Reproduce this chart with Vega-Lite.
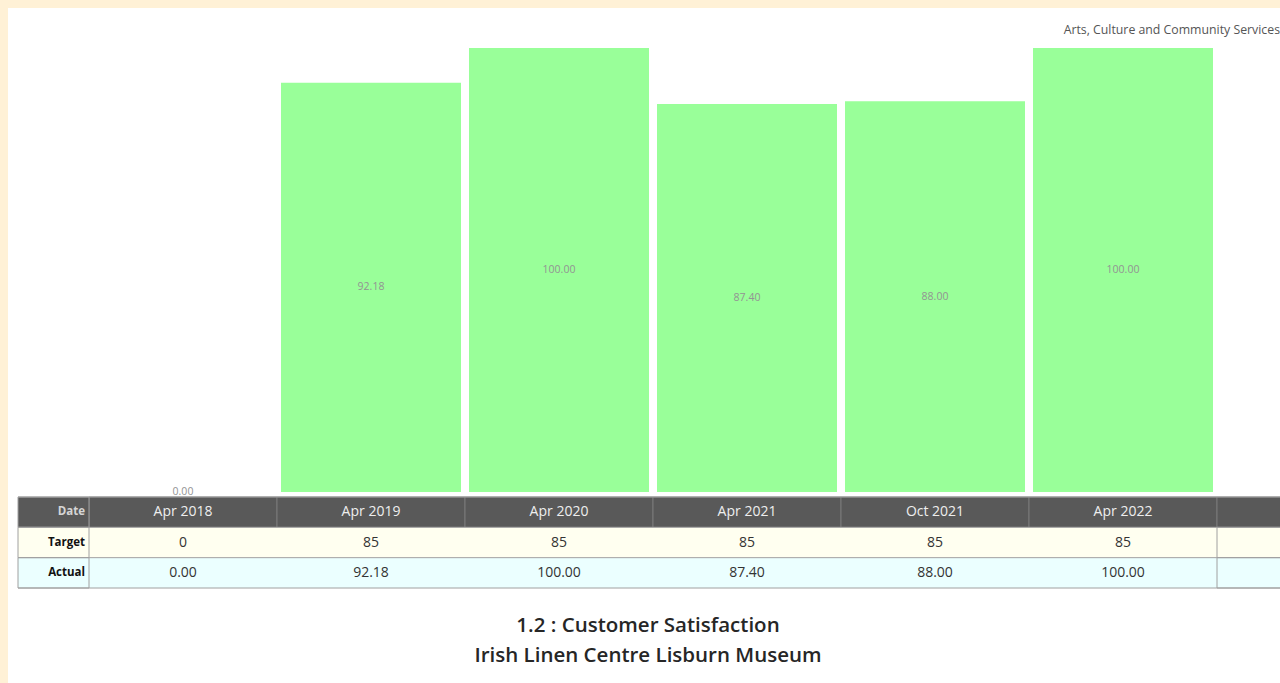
{
  "$schema": "https://vega.github.io/schema/vega-lite/v6.json",
  "width": 1280,
  "height": 683,
  "autosize": {"type": "fit", "contains": "padding"},
  "padding": {"left": 8, "top": 8, "right": 0, "bottom": 0},
  "background": "#FFF1D6",
  "config": {"view": {"fill": "#ffffff", "stroke": null}, "font": "Open Sans", "text": {"font": "Open Sans"}},
  "datasets": {
    "bars": [
      {"date": "Apr 2018", "actual": 0},
      {"date": "Apr 2019", "actual": 92.18},
      {"date": "Apr 2020", "actual": 100},
      {"date": "Apr 2021", "actual": 87.4},
      {"date": "Oct 2021", "actual": 88},
      {"date": "Apr 2022", "actual": 100}
    ],
    "cells": [
      {"col": "Apr 2018", "row": "Date", "text": "Apr 2018"},
      {"col": "Apr 2019", "row": "Date", "text": "Apr 2019"},
      {"col": "Apr 2020", "row": "Date", "text": "Apr 2020"},
      {"col": "Apr 2021", "row": "Date", "text": "Apr 2021"},
      {"col": "Oct 2021", "row": "Date", "text": "Oct 2021"},
      {"col": "Apr 2022", "row": "Date", "text": "Apr 2022"},
      {"col": "_extra", "row": "Date", "text": ""},
      {"col": "Apr 2018", "row": "Target", "text": "0"},
      {"col": "Apr 2019", "row": "Target", "text": "85"},
      {"col": "Apr 2020", "row": "Target", "text": "85"},
      {"col": "Apr 2021", "row": "Target", "text": "85"},
      {"col": "Oct 2021", "row": "Target", "text": "85"},
      {"col": "Apr 2022", "row": "Target", "text": "85"},
      {"col": "_extra", "row": "Target", "text": ""},
      {"col": "Apr 2018", "row": "Actual", "text": "0.00"},
      {"col": "Apr 2019", "row": "Actual", "text": "92.18"},
      {"col": "Apr 2020", "row": "Actual", "text": "100.00"},
      {"col": "Apr 2021", "row": "Actual", "text": "87.40"},
      {"col": "Oct 2021", "row": "Actual", "text": "88.00"},
      {"col": "Apr 2022", "row": "Actual", "text": "100.00"},
      {"col": "_extra", "row": "Actual", "text": ""}
    ],
    "rowlabels": [
      {"col": "lbl", "row": "Date", "text": "Date"},
      {"col": "lbl", "row": "Target", "text": "Target"},
      {"col": "lbl", "row": "Actual", "text": "Actual"}
    ]
  },
  "layer": [
    {
      "data": {"name": "bars"},
      "mark": {"type": "bar", "color": "#99FF99"},
      "encoding": {
        "x": {"field": "date", "type": "nominal", "axis": null,
          "scale": {"domain": ["Apr 2018", "Apr 2019", "Apr 2020", "Apr 2021", "Oct 2021", "Apr 2022"], "range": [81, 1209], "paddingInner": 0.0426, "paddingOuter": 0.0213}},
        "y": {"field": "actual", "type": "quantitative", "axis": null,
          "scale": {"domain": [0, 100], "range": [484, 40], "nice": false}}
      }
    },
    {
      "data": {"name": "bars"},
      "transform": [{"calculate": "datum.actual / 2", "as": "mid"}],
      "mark": {"type": "text", "fontSize": 10.5, "color": "#939393"},
      "encoding": {
        "x": {"field": "date", "type": "nominal", "axis": null,
          "scale": {"domain": ["Apr 2018", "Apr 2019", "Apr 2020", "Apr 2021", "Oct 2021", "Apr 2022"], "range": [81, 1209], "paddingInner": 0.0426, "paddingOuter": 0.0213}},
        "y": {"field": "mid", "type": "quantitative", "axis": null,
          "scale": {"domain": [0, 100], "range": [484, 40], "nice": false}},
        "text": {"field": "actual", "type": "quantitative", "format": ".2f"}
      }
    },
    {
      "data": {"name": "cells"},
      "mark": {"type": "rect", "clip": true, "strokeWidth": 1},
      "encoding": {
        "x": {"field": "col", "type": "nominal", "axis": null,
          "scale": {"domain": ["Apr 2018", "Apr 2019", "Apr 2020", "Apr 2021", "Oct 2021", "Apr 2022", "_extra"], "range": [81, 1397], "paddingInner": 0, "paddingOuter": 0}},
        "y": {"field": "row", "type": "nominal", "axis": null,
          "scale": {"domain": ["Date", "Target", "Actual"], "range": [489, 580], "paddingInner": 0, "paddingOuter": 0}},
        "fill": {"field": "row", "type": "nominal", "legend": null,
          "scale": {"domain": ["Date", "Target", "Actual"], "range": ["#595959", "#FFFFF0", "#EBFFFF"]}},
        "stroke": {"condition": [
          {"test": "datum.row === 'Date'", "value": "#7a7a7a"},
          {"test": "datum.col === '_extra'", "value": "#a0a0a0"}
        ], "value": "transparent"}
      }
    },
    {
      "data": {"name": "cells"},
      "transform": [{"filter": "datum.col !== '_extra'"}],
      "mark": {"type": "text"},
      "encoding": {
        "x": {"field": "col", "type": "nominal", "axis": null,
          "scale": {"domain": ["Apr 2018", "Apr 2019", "Apr 2020", "Apr 2021", "Oct 2021", "Apr 2022"], "range": [81, 1209], "paddingInner": 0, "paddingOuter": 0}},
        "y": {"field": "row", "type": "nominal", "axis": null,
          "scale": {"domain": ["Date", "Target", "Actual"], "range": [489, 580], "paddingInner": 0, "paddingOuter": 0}},
        "text": {"field": "text", "type": "nominal"},
        "color": {"condition": {"test": "datum.row === 'Date'", "value": "#eeeeee"}, "value": "#333333"},
        "size": {"value": 14}
      }
    },
    {
      "data": {"name": "rowlabels"},
      "mark": {"type": "rect", "stroke": "#a0a0a0", "strokeWidth": 1},
      "encoding": {
        "x": {"field": "col", "type": "nominal", "axis": null,
          "scale": {"domain": ["lbl"], "range": [10, 81], "paddingInner": 0, "paddingOuter": 0}},
        "y": {"field": "row", "type": "nominal", "axis": null,
          "scale": {"domain": ["Date", "Target", "Actual"], "range": [489, 580], "paddingInner": 0, "paddingOuter": 0}},
        "fill": {"field": "row", "type": "nominal", "legend": null,
          "scale": {"domain": ["Date", "Target", "Actual"], "range": ["#595959", "#FFFFF0", "#EBFFFF"]}}
      }
    },
    {
      "data": {"name": "rowlabels"},
      "mark": {"type": "text", "align": "right", "dx": 31.5, "fontSize": 11.5, "fontWeight": "bold"},
      "encoding": {
        "x": {"field": "col", "type": "nominal", "axis": null,
          "scale": {"domain": ["lbl"], "range": [10, 81], "paddingInner": 0, "paddingOuter": 0}},
        "y": {"field": "row", "type": "nominal", "axis": null,
          "scale": {"domain": ["Date", "Target", "Actual"], "range": [489, 580], "paddingInner": 0, "paddingOuter": 0}},
        "text": {"field": "text", "type": "nominal"},
        "color": {"condition": {"test": "datum.row === 'Date'", "value": "#d5d5d5"}, "value": "#111111"}
      }
    },
    {
      "data": {"values": [{"b": 0}, {"b": 1}, {"b": 2}, {"b": 3}]},
      "mark": {"type": "rule", "color": "#a0a0a0", "strokeWidth": 1},
      "encoding": {
        "y": {"field": "b", "type": "quantitative", "axis": null,
          "scale": {"domain": [0, 3], "range": [489, 580], "nice": false, "zero": false}},
        "x": {"datum": 0, "type": "quantitative", "axis": null, "scale": {"domain": [0, 1], "range": [10, 1272], "nice": false}},
        "x2": {"datum": 1}
      }
    },
    {
      "data": {"values": [
        {"line": "1.2 : Customer Satisfaction", "n": 1},
        {"line": "Irish Linen Centre Lisburn Museum", "n": 2}
      ]},
      "mark": {"type": "text", "x": {"expr": "width / 2 + 4"}, "fontSize": 20.5, "fontWeight": 600, "color": "#262626"},
      "encoding": {
        "y": {"field": "n", "type": "ordinal", "axis": null,
          "scale": {"type": "point", "domain": [1, 2], "range": [618, 648], "padding": 0}},
        "text": {"field": "line", "type": "nominal"}
      }
    },
    {
      "data": {"values": [{"label": "Arts, Culture and Community Services"}]},
      "mark": {"type": "text", "x": "width", "align": "right", "fontSize": 12.3, "color": "#555555"},
      "encoding": {
        "y": {"datum": 104, "type": "quantitative", "axis": null,
          "scale": {"domain": [0, 100], "range": [484, 40], "nice": false}},
        "text": {"field": "label", "type": "nominal"}
      }
    }
  ],
  "resolve": {"scale": {"x": "independent", "y": "independent", "fill": "shared"}}
}
